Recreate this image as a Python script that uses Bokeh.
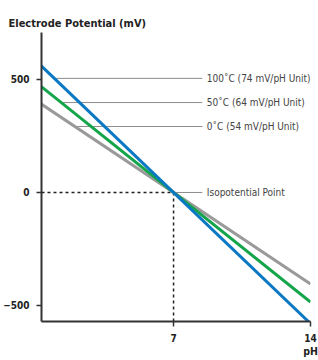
import numpy as np
from bokeh.plotting import figure
from bokeh.models import FixedTicker, Label, Range1d
from bokeh.embed import file_html
from bokeh.resources import INLINE

# Data
ph = [0, 14]
mv_100c = [580, -580]
mv_50c = [485, -485]
mv_0c = [405, -405]
series_colors = ["#0a78c2", "#14a54b", "#9a9a9a"]
series_values = [mv_100c, mv_50c, mv_0c]
label_texts = ["100˚C (74 mV/pH Unit)", "50˚C (64 mV/pH Unit)", "0˚C (54 mV/pH Unit)"]
label_levels = [505, 398, 292]
iso_point = (7, 0)
x_ticks = [7, 14]
y_ticks = [-500, 0, 500]
label_x_end = 8.47
label_x_text = 8.7

FONT = "'DejaVu Sans Condensed', 'Liberation Sans Narrow', sans-serif"

p = figure(width=318, height=360, output_backend="svg", toolbar_location=None,
           x_range=Range1d(0.25, 14), y_range=Range1d(-571, 708),
           min_border_left=41, min_border_right=8, min_border_top=32, min_border_bottom=39,
           title="Electrode Potential (mV)")
p.outline_line_color = None
p.grid.visible = False
p.title.align = "left"
p.title.offset = -33
p.title.standoff = 6
p.title.text_font = FONT
p.title.text_font_style = "bold"
p.title.text_font_size = "11px"
p.title.text_color = "#222222"

for ax in (p.xaxis[0], p.yaxis[0]):
    ax.axis_line_color = "#333333"
    ax.axis_line_width = 2
    ax.major_tick_line_color = "#333333"
    ax.major_tick_line_width = 1.5
    ax.major_tick_out = 5
    ax.major_tick_in = 0
    ax.minor_tick_line_color = None
    ax.major_label_text_font = FONT
    ax.major_label_text_font_style = "bold"
    ax.major_label_text_font_size = "10px"
    ax.major_label_text_color = "#222222"
p.xaxis.ticker = FixedTicker(ticks=x_ticks)
p.yaxis.ticker = FixedTicker(ticks=y_ticks)
p.xaxis.major_label_standoff = 7
p.yaxis.major_label_standoff = 7

xa = p.xaxis[0]
xa.axis_label = "pH"
xa.axis_label_standoff = 0
xa.axis_label_text_font = FONT
xa.axis_label_text_font_style = "bold"
xa.axis_label_text_font_size = "10.5px"
xa.axis_label_text_color = "#222222"
xa.axis_label_align = "end"
xa.axis_label_text_align = "right"

# dotted guides to isopotential point
p.line([0.25, iso_point[0]], [iso_point[1], iso_point[1]], line_color="#222222",
       line_dash="3 3", line_width=1.5)
p.line([iso_point[0], iso_point[0]], [iso_point[1], -571], line_color="#222222",
       line_dash="3 3", line_width=1.5)

# annotation leader lines
for vals, lvl in zip(series_values, label_levels):
    x_start = float(np.interp(lvl, vals[::-1], ph[::-1]))
    p.line([x_start, label_x_end], [lvl, lvl], line_color="#8c8c8c", line_width=1)
p.line([iso_point[0], label_x_end], [iso_point[1], iso_point[1]], line_color="#8c8c8c", line_width=1)

# series lines (gray first, blue on top)
for vals, col in list(zip(series_values, series_colors))[::-1]:
    p.line(ph, vals, line_color=col, line_width=3)

for txt, lvl in zip(label_texts + ["Isopotential Point"], label_levels + [iso_point[1]]):
    p.add_layout(Label(x=label_x_text, y=lvl, text=txt, text_font=FONT,
                       text_font_size="10px", text_color="#444444",
                       text_baseline="middle", text_align="left"))

open("out.html", "w").write(file_html(p, INLINE))
